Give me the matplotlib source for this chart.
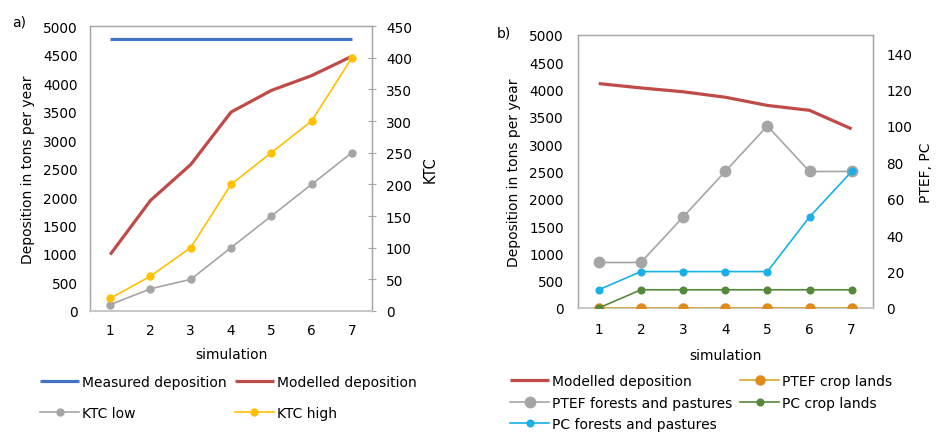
import matplotlib
matplotlib.use("Agg")
import matplotlib.pyplot as plt

# -----------------------------
# Data
# -----------------------------
simulation = [1, 2, 3, 4, 5, 6, 7]

# panel a
measured_a = [4770, 4770, 4770, 4770, 4770, 4770, 4770]
modelled_a = [990, 1940, 2570, 3490, 3870, 4130, 4470]
ktc_low = [10, 35, 50, 100, 150, 200, 250]
ktc_high = [20, 55, 100, 200, 250, 300, 400]

# panel b
modelled_b = [4110, 4030, 3960, 3860, 3710, 3620, 3280]
ptef_crop = [0, 0, 0, 0, 0, 0, 0]
ptef_forest = [25, 25, 50, 75, 100, 75, 75]
pc_crop = [0, 10, 10, 10, 10, 10, 10]
pc_forest = [10, 20, 20, 20, 20, 50, 75]

left_ticks = list(range(0, 5001, 500))
ktc_ticks = list(range(0, 451, 50))
ptef_ticks = list(range(0, 141, 20))

# -----------------------------
# Style
# -----------------------------
plt.rcParams['font.family'] = ['DejaVu Sans']
plt.rcParams['font.size'] = 9.8
frame = '#A6A6A6'
red = '#BE4B48'
blue = '#4472C4'
gray = '#A5A5A5'
gold = '#FFC000'
cyan = '#1AAFE6'
green = '#55893A'
orange = '#E08A1B'

fig = plt.figure(figsize=(9.36, 4.35), dpi=100)


def style_frame(ax):
    for s in ax.spines.values():
        s.set_color(frame)
        s.set_linewidth(0.9)
    ax.spines['bottom'].set_color('#C8C8C8')
    ax.spines['bottom'].set_linewidth(1.3)


# -----------------------------
# Panel a
# -----------------------------
ax1 = fig.add_axes([0.0962, 0.2828, 0.3013, 0.655])
ax1b = ax1.twinx()

ax1.plot(simulation, measured_a, color=blue, lw=2.3, solid_capstyle='butt',
         label='Measured deposition')
ax1.plot(simulation, modelled_a, color=red, lw=2.3, solid_capstyle='butt',
         label='Modelled deposition')
ax1b.plot(simulation, ktc_low, color=gray, lw=1.2, marker='o', ms=5,
          label='KTC low')
ax1b.plot(simulation, ktc_high, color=gold, lw=1.2, marker='o', ms=5,
          label='KTC high')

ax1.set_xlim(0.5, 7.5)
ax1.set_ylim(0, 5000)
ax1.set_yticks(left_ticks)
ax1b.set_ylim(0, 450)
ax1b.set_yticks(ktc_ticks)
ax1.set_xticks(simulation)
ax1.tick_params(axis='both', length=0, pad=9)
ax1b.tick_params(axis='y', length=6, direction='inout', color=frame, pad=7)
style_frame(ax1)
style_frame(ax1b)
ax1.set_ylabel('Deposition in tons per year', fontsize=10, labelpad=6)
ax1b.set_ylabel('KTC', fontsize=10.5, labelpad=8)
ax1.set_xlabel('simulation', fontsize=10, labelpad=7)
fig.text(0.013, 0.948, 'a)', fontsize=10, va='center')

h1, l1 = ax1.get_legend_handles_labels()
h2, l2 = ax1b.get_legend_handles_labels()
fig.legend([h1[0], h2[0], h1[1], h2[1]], [l1[0], l2[0], l1[1], l2[1]],
           ncol=2, loc='upper left', bbox_to_anchor=(0.043, 0.135),
           frameon=False, fontsize=10, handlelength=2.8, handletextpad=0.2,
           columnspacing=0.6, labelspacing=1.2, borderpad=0, borderaxespad=0)

# -----------------------------
# Panel b
# -----------------------------
ax2 = fig.add_axes([0.6172, 0.2897, 0.3152, 0.6276])
ax2b = ax2.twinx()

ax2.plot(simulation, modelled_b, color=red, lw=2.3, solid_capstyle='butt',
         label='Modelled deposition')
ax2b.plot(simulation, ptef_crop, color='#D9A52A', lw=1.2, marker='o', ms=6.5,
          mfc=orange, mec=orange, label='PTEF crop lands', zorder=3)
ax2b.plot(simulation, ptef_forest, color=gray, lw=1.2, marker='o', ms=7.5,
          label='PTEF forests and pastures')
ax2b.plot(simulation, pc_crop, color=green, lw=1.2, marker='o', ms=4.8,
          label='PC crop lands', zorder=4)
ax2b.plot(simulation, pc_forest, color=cyan, lw=1.2, marker='o', ms=4.8,
          label='PC forests and pastures')

ax2.set_xlim(0.5, 7.5)
ax2.set_ylim(0, 5000)
ax2.set_yticks(left_ticks)
ax2b.set_ylim(0, 150)
ax2b.set_yticks(ptef_ticks)
ax2.set_xticks(simulation)
ax2.tick_params(axis='both', length=0, pad=10)
ax2b.tick_params(axis='y', length=0, pad=10)
style_frame(ax2)
style_frame(ax2b)
ax2.set_ylabel('Deposition in tons per year', fontsize=10, labelpad=6)
ax2b.set_ylabel('PTEF, PC', fontsize=10, labelpad=5)
ax2.set_xlabel('simulation', fontsize=10, labelpad=9)
fig.text(0.531, 0.924, 'b)', fontsize=10, va='center')

hb1, lb1 = ax2.get_legend_handles_labels()
hb2, lb2 = ax2b.get_legend_handles_labels()
order_h = [hb1[0], hb2[1], hb2[3], hb2[0], hb2[2]]
order_l = [lb1[0], lb2[1], lb2[3], lb2[0], lb2[2]]
fig.legend(order_h, order_l, ncol=2, loc='upper left',
           bbox_to_anchor=(0.545, 0.138), frameon=False, fontsize=10,
           handlelength=2.8, handletextpad=0.2, columnspacing=0.6,
           labelspacing=0.55, borderpad=0, borderaxespad=0)

fig.savefig('out.png', dpi=100)
